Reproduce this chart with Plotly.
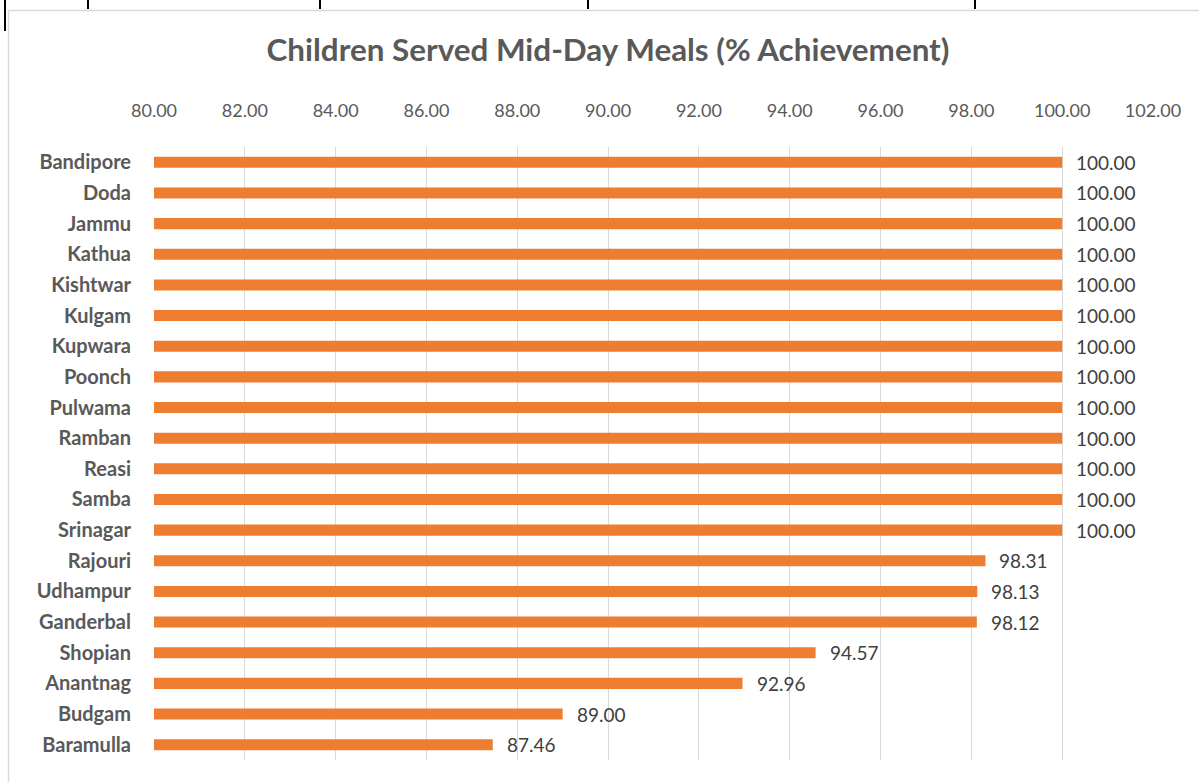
import plotly.graph_objects as go

districts = ["Bandipore", "Doda", "Jammu", "Kathua", "Kishtwar", "Kulgam", "Kupwara",
             "Poonch", "Pulwama", "Ramban", "Reasi", "Samba", "Srinagar", "Rajouri",
             "Udhampur", "Ganderbal", "Shopian", "Anantnag", "Budgam", "Baramulla"]
achievement = [100.00, 100.00, 100.00, 100.00, 100.00, 100.00, 100.00,
               100.00, 100.00, 100.00, 100.00, 100.00, 100.00, 98.31,
               98.13, 98.12, 94.57, 92.96, 89.00, 87.46]
tick_vals = [80, 82, 84, 86, 88, 90, 92, 94, 96, 98, 100, 102]
tick_text = [f"{v:.2f}" for v in tick_vals]

W, H = 1199, 782
L, R, T, B = 154, 46, 147, 22
pw, ph = W - L - R, H - T - B

def px(xpix):
    return (xpix - L) / pw

def py(ypix):
    return (H - B - ypix) / ph

font = "Lato, Calibri, 'Open Sans', sans-serif"

fig = go.Figure(go.Bar(
    x=achievement, y=districts, orientation="h",
    marker=dict(color="#ED7D31", line=dict(width=0)),
    hoverinfo="skip",
))

annotations = [dict(x=v, y=d, xref="x", yref="y", text=f"{v:.2f}", showarrow=False,
                    xanchor="left", yanchor="middle", xshift=12,
                    font=dict(family=font, size=19, color="#404040"))
               for d, v in zip(districts, achievement)]

shapes = [
    dict(type="line", xref="paper", yref="paper", x0=px(8.5), x1=px(1205), y0=py(10.5), y1=py(10.5),
         line=dict(color="#D9D9D9", width=1.5)),
    dict(type="line", xref="paper", yref="paper", x0=px(8.5), x1=px(8.5), y0=py(10.5), y1=py(790),
         line=dict(color="#D9D9D9", width=1.5)),
    dict(type="line", xref="paper", yref="paper", x0=px(5), x1=px(5), y0=py(0), y1=py(31),
         line=dict(color="#000000", width=2)),
]
for xp in [88, 320, 588, 975]:
    shapes.append(dict(type="line", xref="paper", yref="paper", x0=px(xp), x1=px(xp),
                       y0=py(0), y1=py(9), line=dict(color="#000000", width=2)))

fig.update_layout(
    width=W, height=H,
    margin=dict(l=L, r=R, t=T, b=B, pad=0),
    paper_bgcolor="white", plot_bgcolor="white",
    bargap=0.64,
    showlegend=False,
    title=dict(text="<b>Children Served Mid-Day Meals (% Achievement)</b>",
               xref="container", yref="container",
               x=608 / W, xanchor="center", y=1 - 50 / H, yanchor="middle",
               font=dict(family=font, size=31.4, color="#595959")),
    xaxis=dict(range=[80, 102], side="top", tickvals=tick_vals, ticktext=tick_text,
               showgrid=True, gridcolor="#D9D9D9", gridwidth=1, zeroline=False,
               showline=False, ticks="outside", ticklen=22, tickcolor="rgba(0,0,0,0)",
               tickfont=dict(family=font, size=18, color="#595959")),
    yaxis=dict(autorange="reversed", showgrid=False, zeroline=False, showline=False,
               ticks="outside", ticklen=18, tickcolor="rgba(0,0,0,0)",
               tickfont=dict(family=font, size=20, color="#595959", weight="bold")),
    annotations=annotations,
    shapes=shapes,
)

fig.write_html("out.html", config={"displayModeBar": False},
               post_script="document.body.style.margin='0';document.body.style.overflow='hidden';")
